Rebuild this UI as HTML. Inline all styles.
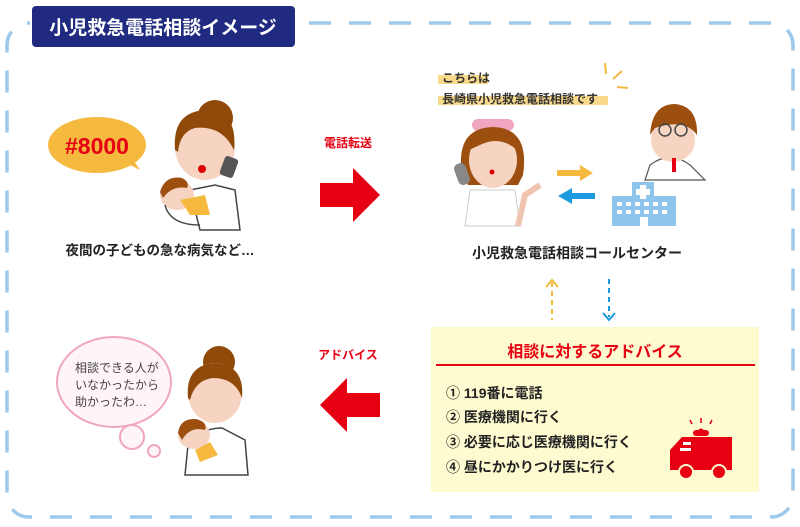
<!DOCTYPE html>
<html><head><meta charset="utf-8"><style>
html,body{margin:0;padding:0;background:#fff;}
svg{display:block;}
text{font-family:"Liberation Sans","Noto Sans CJK JP",sans-serif;font-weight:bold;}
</style></head><body>
<svg width="800" height="527" viewBox="0 0 800 527" xmlns="http://www.w3.org/2000/svg">
<!-- dashed frame -->
<rect x="7" y="23" width="786" height="494" rx="22" fill="none" stroke="#9dc9ec" stroke-width="3.5" stroke-dasharray="22 18"/>
<rect x="30" y="0" width="275" height="50" fill="#fff"/>
<rect x="32" y="6" width="263" height="41" rx="4" fill="#1f2a80"/>
<text x="163" y="34" font-size="19" fill="#fff" text-anchor="middle">小児救急電話相談イメージ</text>

<!-- #8000 bubble -->
<ellipse cx="97" cy="145" rx="49" ry="28" fill="#f5b940"/>
<path d="M120 160 L140 170 L128 152 Z" fill="#f5b940"/>
<text x="97" y="154" font-size="23" fill="#e60012" text-anchor="middle">#8000</text>

<!-- mother top -->
<circle cx="215" cy="118" r="18" fill="#8f4a0a"/>
<ellipse cx="205" cy="147" rx="30" ry="33" fill="#f7d3c2"/>
<path d="M175 150 Q172 112 205 110 Q238 110 234 150 Q222 125 195 128 Q180 132 178 152Z" fill="#8f4a0a"/>
<rect x="222" y="157" width="14" height="20" rx="3" fill="#555" transform="rotate(20 229 167)"/>
<circle cx="202" cy="169" r="4" fill="#d00"/>
<path d="M190 190 L215 185 L235 190 L240 230 L200 230 Z" fill="#fff" stroke="#444" stroke-width="1.5"/>
<ellipse cx="177" cy="195" rx="17" ry="15" fill="#f7d3c2"/>
<path d="M160 192 Q165 175 182 178 Q190 182 187 188 Q172 185 163 198Z" fill="#9c4f0e"/>
<path d="M180 200 L205 195 L210 215 L190 215Z" fill="#f5b940"/>
<path d="M165 205 Q170 225 200 225" fill="none" stroke="#444" stroke-width="1.5"/>
<text x="160" y="255" font-size="13.5" fill="#222" text-anchor="middle">夜間の子どもの急な病気など…</text>

<!-- red arrows -->
<text x="348" y="147" font-size="12" fill="#e60012" text-anchor="middle">電話転送</text>
<polygon points="320,183 353,183 353,168 380,195 353,222 353,207 320,207" fill="#e60012"/>
<text x="348" y="359" font-size="12" fill="#e60012" text-anchor="middle">アドバイス</text>
<polygon points="380,393 347,393 347,378 320,405 347,432 347,417 380,417" fill="#e60012"/>

<!-- nurse text -->
<rect x="438" y="75" width="50" height="9" fill="#f9d98a"/>
<rect x="438" y="96" width="170" height="9" fill="#f9d98a"/>
<text x="442" y="82" font-size="12" fill="#333">こちらは</text>
<text x="442" y="103" font-size="12" fill="#333">長崎県小児救急電話相談です</text>
<path d="M605 63 L606 74 M613 79 L622 71 M617 87 L628 88" stroke="#f5b940" stroke-width="2"/>

<!-- nurse -->
<rect x="472" y="119" width="42" height="12" rx="6" fill="#f0a5c0"/>
<path d="M462 175 Q455 128 493 127 Q530 128 523 175 L518 185 L468 185Z" fill="#9c4f0e"/>
<ellipse cx="493" cy="160" rx="24" ry="28" fill="#f7d3c2"/>
<path d="M469 150 Q475 130 493 132 Q512 130 517 150 Q500 135 480 145Z" fill="#9c4f0e"/>
<rect x="456" y="163" width="12" height="22" rx="5" fill="#888" transform="rotate(-20 462 174)"/>
<circle cx="492" cy="172" r="2.5" fill="#d00"/>
<path d="M470 190 L515 190 L520 226 L465 226Z" fill="#fff" stroke="#ccc"/>
<path d="M518 226 L525 195 L540 185" fill="none" stroke="#f0c5b0" stroke-width="6"/>

<!-- arrows small -->
<rect x="557" y="170" width="25" height="6" fill="#f5b940"/><polygon points="580,165 593,173 580,181" fill="#f5b940"/>
<rect x="570" y="193" width="25" height="6" fill="#1a9be0"/><polygon points="572,188 558,196 572,204" fill="#1a9be0"/>

<!-- doctor -->
<path d="M650 165 Q670 150 690 165 L705 180 L645 180Z" fill="#fff" stroke="#555" stroke-width="1.2"/>
<ellipse cx="673" cy="140" rx="22" ry="22" fill="#f7d3c2"/>
<path d="M650 135 Q652 104 675 104 Q698 106 697 135 Q685 118 655 128Z" fill="#9c4f0e"/>
<circle cx="665" cy="130" r="6" fill="none" stroke="#444" stroke-width="1.5"/><circle cx="681" cy="130" r="6" fill="none" stroke="#444" stroke-width="1.5"/>
<rect x="672" y="158" width="4" height="14" fill="#e60012"/>

<!-- hospital -->
<rect x="632" y="182" width="22" height="20" fill="#8ec5ec"/>
<rect x="612" y="196" width="64" height="30" fill="#8ec5ec"/>
<rect x="640" y="185" width="6" height="14" fill="#fff"/><rect x="636" y="189" width="14" height="6" fill="#fff"/>
<g fill="#fff"><rect x="617" y="202" width="5" height="4"/><rect x="626" y="202" width="5" height="4"/><rect x="635" y="202" width="5" height="4"/><rect x="644" y="202" width="5" height="4"/><rect x="653" y="202" width="5" height="4"/><rect x="662" y="202" width="5" height="4"/>
<rect x="617" y="210" width="5" height="4"/><rect x="626" y="210" width="5" height="4"/><rect x="635" y="210" width="5" height="4"/><rect x="644" y="210" width="5" height="4"/><rect x="653" y="210" width="5" height="4"/><rect x="662" y="210" width="5" height="4"/>
<rect x="640" y="217" width="8" height="9"/></g>

<text x="577" y="258" font-size="14" fill="#222" text-anchor="middle">小児救急電話相談コールセンター</text>

<!-- dashed vertical arrows -->
<line x1="552" y1="282" x2="552" y2="320" stroke="#f5b940" stroke-width="2" stroke-dasharray="5 4"/>
<path d="M546 287 L552 280 L558 287" fill="none" stroke="#f5b940" stroke-width="2"/>
<line x1="609" y1="279" x2="609" y2="317" stroke="#1a9be0" stroke-width="2" stroke-dasharray="5 4"/>
<path d="M603 313 L609 320 L615 313" fill="none" stroke="#1a9be0" stroke-width="2"/>

<!-- advice box -->
<rect x="431" y="327" width="328" height="165" fill="#fffbd0"/>
<text x="595" y="357" font-size="16" fill="#e60012" text-anchor="middle">相談に対するアドバイス</text>
<line x1="436" y1="365" x2="755" y2="365" stroke="#e60012" stroke-width="2"/>
<g font-size="14" fill="#222">
<text x="446" y="398">① 119番に電話</text>
<text x="446" y="422">② 医療機関に行く</text>
<text x="446" y="447">③ 必要に応じ医療機関に行く</text>
<text x="446" y="472">④ 昼にかかりつけ医に行く</text>
</g>
<!-- ambulance -->
<path d="M697 432 Q701 425 705 432Z" fill="#e60012"/>
<rect x="693" y="430" width="16" height="6" rx="3" fill="#e60012"/>
<path d="M692 424 L690 420 M701 423 L701 418 M710 424 L712 420" stroke="#e60012" stroke-width="1.5"/>
<path d="M682 437 L732 437 L732 470 L670 470 L670 450 Z" fill="#e60012"/>
<rect x="683" y="442" width="8" height="3" fill="#fff"/><rect x="680" y="448" width="11" height="3" fill="#fff"/>
<circle cx="686" cy="472" r="7" fill="#e60012" stroke="#fffbd0" stroke-width="2"/>
<circle cx="719" cy="472" r="7" fill="#e60012" stroke="#fffbd0" stroke-width="2"/>

<!-- bottom-left bubble -->
<ellipse cx="114" cy="382" rx="57" ry="45" fill="#fff5f8" stroke="#f0a5c3" stroke-width="2"/>
<circle cx="132" cy="437" r="12" fill="#fff5f8" stroke="#f0a5c3" stroke-width="2"/>
<circle cx="154" cy="451" r="6" fill="#fff5f8" stroke="#f0a5c3" stroke-width="2"/>
<g font-size="12" fill="#444" font-weight="normal">
<text x="75" y="372" style="font-weight:normal">相談できる人が</text>
<text x="75" y="389" style="font-weight:normal">いなかったから</text>
<text x="75" y="406" style="font-weight:normal">助かったわ…</text>
</g>

<!-- mother bottom -->
<circle cx="219" cy="362" r="16" fill="#8f4a0a"/>
<ellipse cx="215" cy="393" rx="27" ry="30" fill="#f7d3c2"/>
<path d="M188 398 Q185 365 215 363 Q245 365 242 398 Q235 378 213 378 Q195 380 190 400Z" fill="#8f4a0a"/>
<path d="M188 445 Q200 428 222 428 L245 440 L248 475 L185 475Z" fill="#fff" stroke="#444" stroke-width="1.5"/>
<ellipse cx="194" cy="435" rx="16" ry="14" fill="#f7d3c2"/>
<path d="M178 433 Q180 418 196 419 Q208 422 205 430 Q190 426 182 440Z" fill="#9c4f0e"/>
<path d="M195 450 L210 442 L218 455 L200 462Z" fill="#f5b940"/>
</svg>
</body></html>
